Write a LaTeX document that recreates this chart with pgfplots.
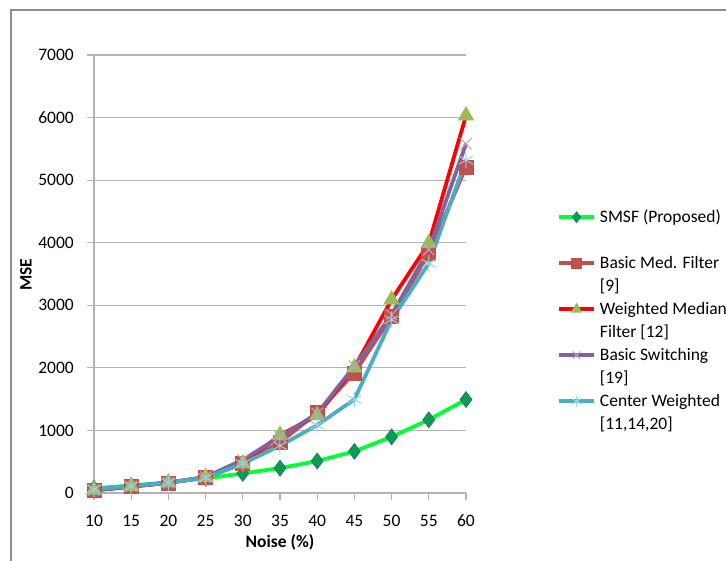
\documentclass[border=0pt]{standalone}
\usepackage{fontspec}
\setmainfont{Carlito}
\usepackage{pgfplots}
\pgfplotsset{compat=1.18}
\definecolor{gridgray}{HTML}{B3B3B3}
\definecolor{framegray}{HTML}{8C8C8C}
\definecolor{smsfline}{HTML}{00FF33}
\definecolor{smsfmark}{HTML}{109A50}
\definecolor{bmf}{HTML}{C0504D}
\definecolor{wmfline}{HTML}{FF0000}
\definecolor{wmfmark}{HTML}{9BBB59}
\definecolor{bsline}{HTML}{8064A2}
\definecolor{bsmark}{HTML}{B4A6D2}
\definecolor{cwline}{HTML}{4BACC6}
\definecolor{cwmark}{HTML}{93D3EA}
\pgfplotsset{
  smsf/.style={color=smsfline, line width=3.8pt, mark=diamond*, mark size=8pt,
    mark options={solid, fill=smsfmark, draw=smsfmark!80!blue, line width=0.6pt}},
  bmfs/.style={color=bmf, line width=3.8pt, mark=square*, mark size=7pt,
    mark options={solid, fill=bmf, draw=bmf, line width=0.6pt}},
  wmfs/.style={color=wmfline, line width=3.8pt, mark=triangle*, mark size=9pt,
    mark options={solid, fill=wmfmark, draw=wmfmark, line width=0.6pt}},
  bss/.style={color=bsline, line width=3.8pt, mark=x, mark size=8pt,
    mark options={solid, draw=bsmark, line width=1pt}},
  cws/.style={color=cwline, line width=3.8pt, mark=asterisk, mark size=8pt,
    mark options={solid, draw=cwmark, line width=1pt}},
}
\begin{document}
\begin{tikzpicture}[x=1pt,y=1pt,font=\fontsize{17.5}{23}\selectfont]
\path[use as bounding box] (0,0) rectangle (726,560);
\draw[framegray, line width=1.5pt] (11,550) rectangle (780,-40);
\begin{axis}[
  at={(94pt,67pt)}, anchor=origin,
  scale only axis, width=372pt, height=438pt,
  xmin=10, xmax=60, ymin=0, ymax=7000,
  xtick={10,15,...,60}, ytick={0,1000,...,7000},
  xticklabels={10,15,20,25,30,35,40,45,50,55,60},
  yticklabels={0,1000,2000,3000,4000,5000,6000,7000},
  axis lines*=left,
  axis line style={draw=gridgray, line width=1.2pt},
  ymajorgrids, grid style={draw=gridgray, line width=1.2pt},
  tick align=outside, major tick length=7pt,
  tick style={draw=gridgray, line width=1.2pt},
  tick label style={font=\fontsize{17.5}{21}\selectfont},
  xticklabel style={anchor=center, inner sep=0pt, yshift=-21pt},
  yticklabel style={anchor=east, inner sep=0pt, xshift=-13pt},
  xlabel={\textbf{Noise (\%)}}, ylabel={\textbf{MSE}},
  label style={font=\fontsize{17.5}{21}\selectfont},
  xlabel style={at={(axis description cs:0.5,-0.112)}, anchor=center},
  ylabel style={at={(axis description cs:-0.183,0.498)}, anchor=center, rotate=0},
  clip=false,
  legend image code/.code={\draw[mark repeat=2,mark phase=2] plot coordinates {(0pt,0pt) (17.5pt,0pt) (35pt,0pt)};},
  legend style={at={(axis description cs:1.2446,0.6564)}, anchor=north west,
    draw=none, fill=none, inner sep=0pt, column sep=4pt, row sep=0pt,
    font=\fontsize{17.5}{23}\selectfont,
    nodes={inner xsep=0pt, inner ysep=2.5pt, text height=14pt, text depth=4pt}},
  legend cell align=left,
]
\addplot[smsf, forget plot] coordinates {(10,75) (15,120) (20,170) (25,235) (30,312) (35,398) (40,511) (45,665) (50,898) (55,1170) (60,1494)};
\addplot[bmfs, forget plot] coordinates {(10,40) (15,100) (20,160) (25,255) (30,470) (35,810) (40,1285) (45,1920) (50,2820) (55,3825) (60,5210)};
\addplot[wmfs, forget plot] coordinates {(10,45) (15,105) (20,165) (25,250) (30,470) (35,925) (40,1240) (45,2005) (50,3090) (55,3990) (60,6030)};
\addplot[bss, forget plot] coordinates {(10,45) (15,105) (20,165) (25,255) (30,530) (35,900) (40,1270) (45,2030) (50,2850) (55,3890) (60,5580)};
\addplot[cws, forget plot] coordinates {(10,60) (15,110) (20,165) (25,245) (30,470) (35,755) (40,1085) (45,1495) (50,2770) (55,3670) (60,5320)};
\addlegendimage{smsf, mark size=5.5pt}
\addlegendentry{SMSF (Proposed)}
\addlegendimage{empty legend}
\addlegendentry{\mbox{}}
\addlegendimage{bmfs, mark size=5pt}
\addlegendentry{Basic Med. Filter}
\addlegendimage{empty legend}
\addlegendentry{[9]}
\addlegendimage{wmfs, mark size=6pt}
\addlegendentry{Weighted Median}
\addlegendimage{empty legend}
\addlegendentry{Filter [12]}
\addlegendimage{bss, mark size=5.5pt}
\addlegendentry{Basic Switching}
\addlegendimage{empty legend}
\addlegendentry{[19]}
\addlegendimage{cws, mark size=5.5pt}
\addlegendentry{Center Weighted}
\addlegendimage{empty legend}
\addlegendentry{[11,14,20]}
\end{axis}
\end{tikzpicture}
\end{document}
